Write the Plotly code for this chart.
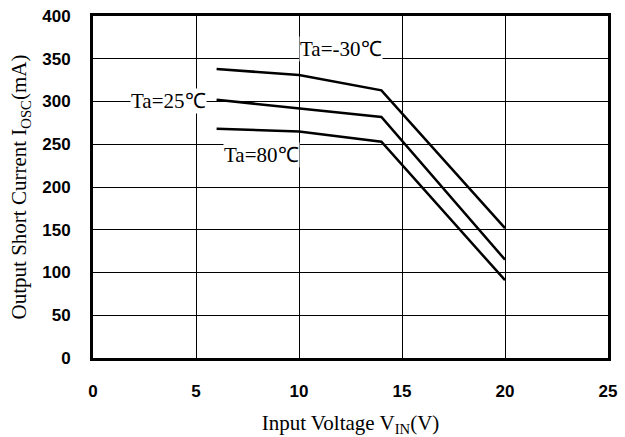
import plotly.graph_objects as go

vin = [6, 10, 14, 20]
ta_m30 = [338, 331, 313, 152]
ta_25 = [302, 292, 282, 115]
ta_80 = [268, 265, 253, 91]

x_ticks = [0, 5, 10, 15, 20, 25]
y_ticks = [0, 50, 100, 150, 200, 250, 300, 350, 400]

fig = go.Figure()
for name, ys in [("Ta=-30℃", ta_m30), ("Ta=25℃", ta_25), ("Ta=80℃", ta_80)]:
    fig.add_trace(go.Scatter(x=vin, y=ys, mode="lines", name=name,
                             line=dict(color="black", width=2.5), showlegend=False))

ann_font = dict(family="Liberation Serif", size=21, color="black")
fig.add_annotation(x=12.05, y=361, text="Ta=-30℃", showarrow=False, font=ann_font,
                   bgcolor="white", borderpad=0)
fig.add_annotation(x=3.65, y=301, text="Ta=25℃", showarrow=False, font=ann_font,
                   bgcolor="white", borderpad=0)
fig.add_annotation(x=8.2, y=237, text="Ta=80℃", showarrow=False, font=ann_font,
                   bgcolor="white", borderpad=0)

tick_font = dict(family="Liberation Sans", size=17, color="black", weight="bold")
title_font = dict(family="Liberation Serif", size=21, color="black")
fig.update_xaxes(range=[0, 25], tickvals=x_ticks, ticktext=[str(v) for v in x_ticks],
                 showgrid=True, gridcolor="black", gridwidth=1, automargin=False,
                 showline=True, linecolor="black", linewidth=3, mirror=True,
                 ticks="", ticklabelstandoff=16, zeroline=False, tickfont=tick_font,
                 title=dict(text="Input Voltage V<sub>IN</sub>(V)", standoff=16, font=title_font))
fig.update_yaxes(range=[0, 400], tickvals=y_ticks, ticktext=[str(v) for v in y_ticks],
                 showgrid=True, gridcolor="black", gridwidth=1, automargin=False,
                 showline=True, linecolor="black", linewidth=3, mirror=True,
                 ticks="", ticklabelstandoff=16, zeroline=False, tickfont=tick_font,
                 title=dict(text="Output Short Current I<sub>OSC</sub>(mA)", standoff=10, font=title_font))
fig.update_layout(width=625, height=437, margin=dict(l=93, r=17, t=16, b=79),
                  plot_bgcolor="white", paper_bgcolor="white")
fig.write_html("out.html")
